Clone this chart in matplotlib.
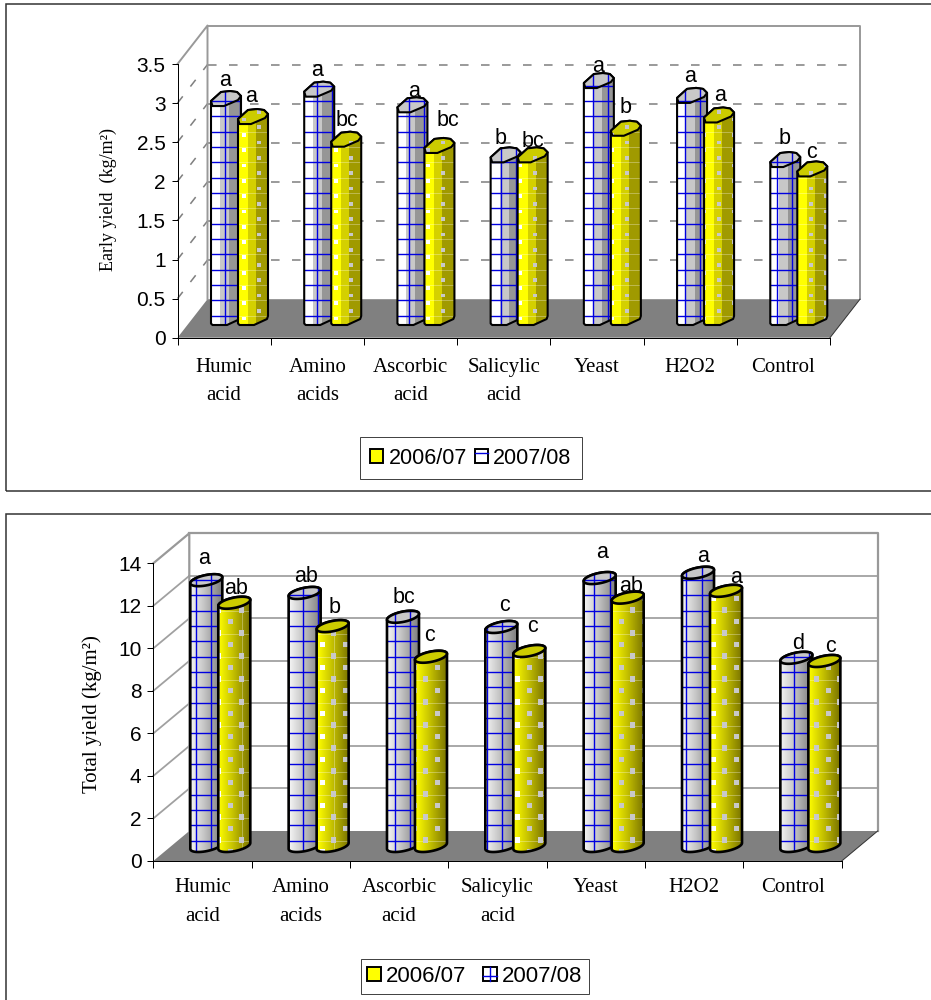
import numpy as np
import matplotlib
matplotlib.use("Agg")
import matplotlib.pyplot as plt
from matplotlib.collections import LineCollection
from matplotlib.colors import to_rgb
from matplotlib.legend_handler import HandlerBase
from matplotlib.lines import Line2D
from matplotlib.patches import Patch, Polygon, Rectangle

categories = ["Humic\nacid", "Amino\nacids", "Ascorbic\nacid", "Salicylic\nacid", "Yeast", "H2O2", "Control"]
seasons = ["2006/07", "2007/08"]

early_0708 = [2.80, 2.92, 2.72, 2.08, 3.03, 2.84, 2.02]
early_0607 = [2.57, 2.28, 2.20, 2.08, 2.42, 2.59, 1.90]
early_letters_0708 = ["a", "a", "a", "b", "a", "a", "b"]
early_letters_0607 = ["a", "bc", "bc", "bc", "b", "a", "c"]

total_0708 = [12.5, 11.9, 10.78, 10.3, 12.6, 12.85, 8.85]
total_0607 = [11.44, 10.34, 8.9, 9.17, 11.68, 12.0, 8.7]
total_letters_0708 = ["a", "ab", "bc", "c", "a", "a", "d"]
total_letters_0607 = ["ab", "b", "c", "c", "ab", "a", "c"]

early_ticks = [0, 0.5, 1, 1.5, 2, 2.5, 3, 3.5]
early_ticklabels = ["0", "0.5", "1", "1.5", "2", "2.5", "3", "3.5"]
total_ticks = [0, 2, 4, 6, 8, 10, 12, 14]

# where the letters sit relative to each bar, in pixels
early_shift_0708 = [14, 12.5, 17, 10, 14, 13, 14]
early_lift_0708 = [20, 21, 15, 18, 16, 21, 23.5]
early_shift_0607 = [13, 16, 23.5, 15, 15, 16, 14]
early_lift_0607 = [22, 21, 26.5, 15.5, 23, 21, 18]
total_shift_0708 = [14, 17.5, 17, 19, 18, 21, 18]
total_lift_0708 = [16, 11, 13.5, 16, 20, 11, 9]
total_shift_0607 = [18, 18, 15, 19, 19, 26, 22]
total_lift_0607 = [9, 13, 16, 19, 6, 8, 9]

W, H = 931, 1000
SANS = "Liberation Sans"
SERIF = "Liberation Serif"
LW = 0.72  # 1 px at dpi 100

plt.rcParams["font.family"] = SANS

fig = plt.figure(figsize=(W / 100, H / 100), dpi=100)


class Chart:
    # axes placed by pixel box, helpers go from picture pixels to data
    def __init__(self, left, right, top, bottom, ymax, dx, dy):
        self.left, self.right, self.top, self.bottom = left, right, top, bottom
        self.dx, self.dy = dx, dy
        self.ax = fig.add_axes([left / W, 1 - bottom / H, (right - left) / W, (bottom - top) / H])
        self.ymax = ymax
        self.ppx = (right - left) / 7
        self.ppy = (bottom - top) / ymax

    def X(self, px):
        return (np.asarray(px, dtype=float) - self.left) / self.ppx

    def Y(self, py):
        return (self.bottom - np.asarray(py, dtype=float)) / self.ppy


def no_box(artist):
    artist.set_clip_box(fig.bbox)


def add_frame(x0, y0, x1, y1, color="#333333"):
    # the frames run off the right and bottom of the picture
    fig.add_artist(Rectangle((x0 / W, 1 - y1 / H), (x1 - x0) / W, (y1 - y0) / H, fill=False,
                             edgecolor=color, linewidth=1.1, transform=fig.transFigure))


def draw_walls(c, ticks, grid_style, grid_color, wall_lw):
    ax = c.ax
    ddx, ddy = c.dx / c.ppx, c.dy / c.ppy
    ax.fill([0, 7, 7 + ddx, ddx], [0, 0, ddy, ddy], color="#808080", zorder=1, clip_on=False, linewidth=0)
    ax.plot([0, 7], [0, 0], color="k", lw=LW, zorder=2, clip_on=False)
    ax.plot([7, 7 + ddx], [0, ddy], color="#333333", lw=LW, zorder=2, clip_on=False)
    for t in ticks[1:-1]:
        ax.plot([ddx, 7 + ddx], [t + ddy, t + ddy], color=grid_color, lw=wall_lw * 0.8, zorder=0.5,
                linestyle=grid_style, clip_on=False)
        ax.plot([0, ddx], [t, t + ddy], color=grid_color, lw=wall_lw * 0.8, zorder=0.5,
                linestyle=grid_style, clip_on=False)
    top = ticks[-1]
    ax.plot([0, ddx, ddx], [top, top + ddy, ddy], color="#999999", lw=wall_lw, zorder=1.5, clip_on=False)
    ax.plot([ddx, 7 + ddx, 7 + ddx], [top + ddy, top + ddy, ddy], color="#999999", lw=wall_lw,
            zorder=1.5, clip_on=False)


def setup_axes(c, ticks, ticklabels, ylabel, ylabel_px, ylabel_py, ylabel_size, cat_drop):
    ax = c.ax
    ax.patch.set_visible(False)
    ax.set_xlim(0, 7)
    ax.set_ylim(0, c.ymax)
    for s in ["top", "right"]:
        ax.spines[s].set_visible(False)
    for s in ["left", "bottom"]:
        ax.spines[s].set_linewidth(LW)
        ax.spines[s].set_zorder(3)
    ax.set_yticks(ticks)
    ax.set_yticklabels(ticklabels, fontsize=15)
    ax.tick_params(axis="y", length=4.5, width=LW, pad=4)
    ax.set_xticks(range(8))
    ax.set_xticklabels([])
    ax.tick_params(axis="x", length=5, width=LW)
    for i, name in enumerate(categories):
        ax.annotate(name, (i + 0.5, 0), xytext=(0, -cat_drop), textcoords="offset points", ha="center",
                    va="top", family=SERIF, fontsize=15, linespacing=1.68, annotation_clip=False)
    fig.text(ylabel_px / W, 1 - ylabel_py / H, ylabel, rotation=90, ha="center", va="center",
             family=SERIF, fontsize=ylabel_size)


def draw_lattice_lines(c, x_base, y_base, step, clip, color, lw):
    xs = x_base + step * np.arange(-60, 60)
    ys = y_base - step * np.arange(-10, 60)
    segs = [[(c.X(x), -5), (c.X(x), c.ymax + 5)] for x in xs]
    segs += [[(-2, c.Y(y)), (9, c.Y(y))] for y in ys]
    lc = LineCollection(segs, colors=color, linewidths=lw, zorder=clip.get_zorder())
    c.ax.add_collection(lc, autolim=False)
    lc.set_clip_path(clip)
    no_box(lc)


def draw_dots(c, x_base, y_base, col_step, row_step, clip, x0, size, light_until):
    pts_x, pts_y, cols = [], [], []
    for k in range(-70, 30):
        x = x_base + col_step * k
        for n in range(-15, 60):
            y = y_base + row_step * n + (row_step / 2 if k % 2 else 0)
            pts_x.append(c.X(x))
            pts_y.append(c.Y(y))
            cols.append("white" if x < x0 + light_until else "#c8c8c8")
    sc = c.ax.scatter(pts_x, pts_y, s=size, marker="s", c=cols, linewidths=0, zorder=clip.get_zorder())
    sc.set_clip_path(clip)
    no_box(sc)


def draw_column(c, x_px, base_v, value, lower, upper, bands, width, z):
    # lower / upper are outlines in pixels relative to the column's front
    ax = c.ax
    top_v = base_v + value
    body_pts = [(c.X(x_px + a), base_v + b / c.ppy) for a, b in lower]
    body_pts += [(c.X(x_px + a), top_v + b / c.ppy) for a, b in upper]
    body = Polygon(body_pts, closed=True, facecolor="none", edgecolor="none", zorder=z)
    ax.add_patch(body)
    no_box(body)
    im = ax.imshow(np.array([[to_rgb(b) for b in bands]]), aspect="auto", interpolation="nearest",
                   extent=(c.X(x_px), c.X(x_px + width), base_v - 20 / c.ppy, top_v + 20 / c.ppy),
                   zorder=z, clip_on=True)
    im.set_clip_path(body)
    no_box(im)
    return body


def add_cap(c, x0, top_v, shape, colour, z):
    pts = [(c.X(x0 + a), top_v + b / c.ppy) for a, b in shape]
    cap = Polygon(pts, closed=True, facecolor=colour, edgecolor="none", zorder=z)
    c.ax.add_patch(cap)
    no_box(cap)
    return cap, pts


def outline(c, pts, z, lw=1.5):
    p = Polygon(pts, closed=True, facecolor="none", edgecolor="black", linewidth=lw, zorder=z,
                joinstyle="round")
    c.ax.add_patch(p)
    no_box(p)


def prism_bars(c, values, offset, width, base_px, blue):
    lower = [(0, 5), (0, 1.5), (1.5, 0), (16, 0), (29, 6), (width, 9)]
    upper = [(width, 10), (26, 14), (19, 15), (10, 14), (0, 5)]
    cap = [(0, 5), (1.5, 0), (13, 0), (27, 6), (width, 10), (26, 14), (19, 15), (10, 14)]
    if blue:
        bands = ["white"] * 9 + ["#c8c8c8"] * 9 + ["#969696"] * 12
    else:
        bands = ["#ffff00"] * 10 + ["#d4d000"] * 8 + ["#a09a00"] * 12
    for i, v in enumerate(values):
        x0 = c.left + i * c.ppx + offset
        z = 5 + i + (0.5 if not blue else 0)
        body = draw_column(c, x0, base_px / c.ppy, v, lower, upper, bands, width, z)
        cap_patch, cap_pts = add_cap(c, x0, base_px / c.ppy + v, cap, "#c8c8c8" if blue else "#cccc00", z + 0.2)
        if blue:
            draw_lattice_lines(c, 225, 315.7, 15.33, body, "#0000e0", 1.0)
            draw_lattice_lines(c, 225, 315.7, 15.33, cap_patch, "#0000e0", 1.0)
        else:
            draw_lattice_lines(c, -1000, 315.7, 15.33, body, "#ffffff50", 0.7)
            draw_dots(c, 719, 111.7, 15.33, 15.33, body, x0, 7, 11)
            draw_dots(c, 719, 111.7, 15.33, 15.33, cap_patch, x0 - 100, 7, 0)
        outline(c, body.get_xy()[:-1], z + 0.1)
        outline(c, cap_pts, z + 0.3)


def ellipse_half(cx, cy, t0, t1, half_w, n=24):
    t = np.linspace(t0, t1, n)
    return cx + half_w * np.cos(t), cy + 3 * np.cos(t) + 5.2 * np.sin(t)


def cylinder_bars(c, values, offset, width, base_px, blue):
    half = width / 2
    if blue:
        colours = np.array([to_rgb(x) for x in ["#f4f4f4", "#c4c4c4", "#808080"]])
    else:
        colours = np.array([to_rgb(x) for x in ["#ffff00", "#c8c400", "#7c7600"]])
    stops = np.linspace(0, 1, width)
    bands = np.column_stack([np.interp(stops, [0, 0.45, 1], colours[:, j]) for j in range(3)])
    lx, ly = ellipse_half(half, 0, np.pi, 2 * np.pi, half)
    ux, uy = ellipse_half(half, 0, 0, np.pi, half)
    ring = list(zip(*ellipse_half(half, 0, 0, 2 * np.pi, half, 48)))
    lower = list(zip(lx, ly))
    upper = list(zip(ux, uy))
    for i, v in enumerate(values):
        x0 = c.left + i * c.ppx + offset
        z = 5 + i + (0.5 if not blue else 0)
        body = draw_column(c, x0, base_px / c.ppy, v, lower, upper, bands, width, z)
        cap_patch, cap_pts = add_cap(c, x0, base_px / c.ppy + v, ring, "#c8c8c8" if blue else "#cccc00", z + 0.2)
        if blue:
            draw_lattice_lines(c, 701.7, 840.7, 15.33, body, "#0000e0", 1.0)
            draw_lattice_lines(c, 701.7, 840.7, 15.33, cap_patch, "#0000e0", 1.0)
        else:
            draw_lattice_lines(c, -1000, 840.7, 23, body, "#ffffff50", 0.7)
            draw_dots(c, 724.7, 610, 11.5, 23, body, x0, 14, 6)
        outline(c, body.get_xy()[:-1], z + 0.1, lw=1.9)
        outline(c, cap_pts, z + 0.3, lw=1.9)


def letter_labels(c, letters, values, offset, base_px, shifts, lifts, z=30):
    for i, (t, v) in enumerate(zip(letters, values)):
        x0 = c.left + i * c.ppx + offset + shifts[i]
        c.ax.text(c.X(x0), base_px / c.ppy + v + lifts[i] / c.ppy, t, ha="center", va="baseline",
                  fontsize=15.5, zorder=z, clip_on=False)


class GridHandle(HandlerBase):
    def __init__(self, cross):
        super().__init__()
        self.cross = cross

    def create_artists(self, legend, orig, xd, yd, w, h, fs, trans):
        rect = Rectangle((-xd, -yd), w, h, facecolor="white", edgecolor="black", linewidth=1.4, transform=trans)
        artists = [rect]
        artists.append(Line2D([-xd, -xd + w], [-yd + h * 0.72] * 2, color="#0000e0", lw=1.0, transform=trans))
        if self.cross:
            artists[-1].set_ydata([-yd + h * 0.4] * 2)
            artists.append(Line2D([-xd + w * 0.5] * 2, [-yd, -yd + h], color="#0000e0", lw=1.0, transform=trans))
        return artists


def add_legend(c, box, cross, col_gap, pad, size):
    x0, y0, x1, y1 = box
    handles = [Patch(facecolor="#ffff00", edgecolor="black", linewidth=1.4),
               Patch(facecolor="white", edgecolor="black", linewidth=1.4)]
    leg = c.ax.legend(handles, seasons, ncol=2, loc="center", fontsize=size,
                      bbox_to_anchor=((x0 + x1) / 2 / W, 1 - (y0 + y1) / 2 / H),
                      bbox_transform=fig.transFigure, frameon=True, fancybox=False,
                      edgecolor="#444444", framealpha=1, handlelength=0.6, handleheight=0.6,
                      handletextpad=0.25, columnspacing=col_gap, borderpad=pad,
                      handler_map={handles[1]: GridHandle(cross)})
    leg.get_frame().set_linewidth(LW)
    leg.set_zorder(40)


# top chart
add_frame(5.5, 4, 945, 490.7)
top = Chart(177.5, 830, 64, 337.7, 3.5, 30, 38.5)
draw_walls(top, early_ticks, (0, (5.5, 8)), "#808080", 1.4)
setup_axes(top, early_ticks, early_ticklabels, "Early yield  (kg/m²)", 108, 199, 13, 14.5)
prism_bars(top, early_0708, 33.5, 30, 12.7, True)
prism_bars(top, early_0607, 60.5, 30, 12.7, False)
letter_labels(top, early_letters_0708, early_0708, 33.5, 12.7, early_shift_0708, early_lift_0708)
letter_labels(top, early_letters_0607, early_0607, 60.5, 12.7, early_shift_0607, early_lift_0607)
add_legend(top, (359, 437, 582.7, 479), False, 0.35, 0.5, 15.5)
top.ax.set_xlim(0, 7)
top.ax.set_ylim(0, 3.5)

# bottom chart
add_frame(5.5, 513.7, 945, 1015)
low = Chart(153.3, 841.7, 563.3, 861, 14, 36, 30)
draw_walls(low, total_ticks, "-", "#a0a0a0", 1.6)
setup_axes(low, total_ticks, [str(t) for t in total_ticks], "Total yield (kg/m²)", 92, 714, 15, 12.5)
cylinder_bars(low, total_0708, 37, 32, 15, True)
cylinder_bars(low, total_0607, 65, 32, 15, False)
letter_labels(low, total_letters_0708, total_0708, 37, 15, total_shift_0708, total_lift_0708)
letter_labels(low, total_letters_0607, total_0607, 65, 15, total_shift_0607, total_lift_0607)
add_legend(low, (359, 959, 590.7, 994), True, 0.75, 0.3, 16)
low.ax.set_xlim(0, 7)
low.ax.set_ylim(0, 14)

fig.savefig("out.png", dpi=100)
